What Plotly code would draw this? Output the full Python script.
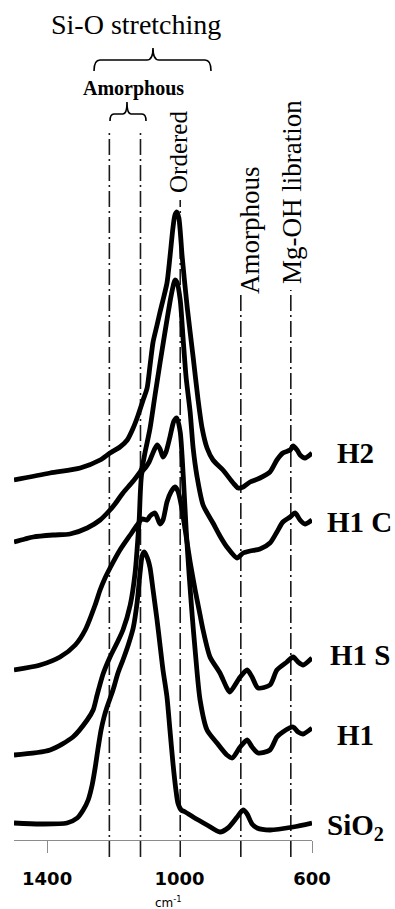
import plotly.graph_objects as go

# ---- FTIR spectra: wavenumber (cm-1) and stacked absorbance (a.u.) ----
h2_wn = [1500, 1391, 1300, 1240, 1210, 1180, 1158, 1140, 1125, 1110, 1098, 1089, 1080, 1068, 1059,
         1050, 1038, 1029, 1020, 1014, 1008, 1002, 992, 977, 959, 944, 932, 917, 899, 869,
         838, 823, 808, 787, 757, 727, 706, 688, 666, 657, 645, 636, 621, 600]
h2_ab = [3.60, 3.67, 3.72, 3.80, 3.87, 3.93, 4.00, 4.12, 4.25, 4.40, 4.52, 4.75, 4.98, 5.15, 5.28,
         5.40, 5.57, 5.83, 6.12, 6.25, 6.28, 6.22, 5.83, 5.33, 4.83, 4.40, 4.12, 3.92, 3.80, 3.70,
         3.57, 3.52, 3.53, 3.58, 3.62, 3.68, 3.80, 3.87, 3.90, 3.94, 3.90, 3.85, 3.82, 3.87]

h1c_wn = [1500, 1467, 1442, 1382, 1331, 1279, 1240, 1210, 1195, 1171, 1140, 1116, 1104, 1089, 1074,
          1059, 1044, 1029, 1020, 1014, 1008, 998, 989, 980, 968, 959, 947, 929, 899, 878,
          857, 826, 808, 787, 757, 727, 706, 688, 666, 651, 636, 621, 600]
h1c_ab = [2.98, 3.01, 3.03, 3.05, 3.06, 3.12, 3.20, 3.30, 3.36, 3.47, 3.59, 3.70, 3.88, 4.12, 4.45,
          4.77, 5.08, 5.38, 5.53, 5.60, 5.58, 5.40, 5.00, 4.62, 4.28, 3.92, 3.63, 3.35, 3.17, 3.04,
          2.93, 2.82, 2.87, 2.89, 2.91, 2.97, 3.08, 3.18, 3.23, 3.27, 3.20, 3.16, 3.20]

h1s_wn = [1500, 1421, 1361, 1315, 1285, 1255, 1240, 1225, 1210, 1180, 1149, 1128, 1113, 1098, 1089,
          1074, 1059, 1050, 1038, 1026, 1014, 1005, 995, 983, 968, 953, 938, 929, 908, 878,
          857, 848, 817, 796, 781, 763, 727, 706, 676, 657, 642, 627, 600]
h1s_ab = [1.70, 1.75, 1.83, 1.95, 2.10, 2.35, 2.50, 2.62, 2.72, 2.90, 3.05, 3.15, 3.21, 3.20, 3.24,
          3.27, 3.16, 3.20, 3.38, 3.48, 3.53, 3.49, 3.35, 3.10, 2.78, 2.50, 2.25, 2.10, 1.83, 1.67,
          1.52, 1.48, 1.63, 1.70, 1.63, 1.52, 1.55, 1.70, 1.78, 1.83, 1.78, 1.75, 1.82]

h1_wn = [1500, 1391, 1322, 1279, 1261, 1249, 1231, 1210, 1189, 1171, 1149, 1134, 1122, 1113, 1104,
         1092, 1083, 1068, 1059, 1050, 1041, 1029, 1017, 1008, 998, 989, 980, 971, 962, 953,
         938, 917, 887, 857, 841, 817, 796, 781, 763, 727, 706, 688, 657, 642, 627, 600]
h1_ab = [0.85, 0.90, 1.03, 1.20, 1.30, 1.45, 1.66, 1.83, 1.97, 2.10, 2.35, 2.68, 3.20, 3.68, 3.72,
         3.78, 3.85, 3.95, 3.91, 3.83, 3.88, 4.03, 4.19, 4.22, 4.08, 3.65, 3.10, 2.65, 2.25, 1.90,
         1.40, 1.10, 0.97, 0.85, 0.82, 0.93, 1.00, 0.93, 0.87, 0.90, 1.03, 1.08, 1.13, 1.08, 1.06,
         1.12]

sio2_wn = [1500, 1421, 1340, 1309, 1291, 1276, 1264, 1255, 1246, 1237, 1228, 1219, 1201, 1186, 1171,
           1155, 1140, 1128, 1119, 1113, 1107, 1101, 1095, 1089, 1080, 1068, 1059, 1050, 1038, 1029,
           1020, 1011, 1005, 995, 983, 959, 917, 878, 854, 826, 808, 796, 781, 766, 727, 657, 600]
sio2_ab = [0.17, 0.16, 0.17, 0.22, 0.30, 0.40, 0.55, 0.72, 0.92, 1.10, 1.23, 1.33, 1.50, 1.67, 1.80,
           1.95, 2.12, 2.38, 2.68, 2.84, 2.88, 2.85, 2.80, 2.72, 2.50, 2.20, 1.95, 1.70, 1.43, 1.10,
           0.77, 0.50, 0.37, 0.30, 0.28, 0.23, 0.15, 0.08, 0.12, 0.23, 0.30, 0.26, 0.16, 0.12, 0.10,
           0.13, 0.17]

# band assignment markers (cm-1)
band_wn = [1212, 1118, 998, 815, 664]

# axis ticks
tick_vals = [1400, 1000, 600]
tick_text = ["1400", "1000", "600"]

series = [
    ("H2", h2_wn, h2_ab),
    ("H1 C", h1c_wn, h1c_ab),
    ("H1 S", h1s_wn, h1s_ab),
    ("H1", h1_wn, h1_ab),
    ("SiO<sub>2</sub>", sio2_wn, sio2_ab),
]

# ---- page geometry ----
W, H = 395, 909
ML, MR, MT, MB = 14, 83, 0, 69
PW, PH = W - ML - MR, H - MT - MB


def fx(x):
    return (x - ML) / PW


def fy(y):
    return (H - MB - y) / PH


fig = go.Figure()
for name, wn, ab in series:
    fig.add_trace(go.Scatter(
        x=wn, y=ab, mode="lines", name=name,
        line=dict(color="#000000", width=4.8, shape="spline", smoothing=0.7),
        showlegend=False, hoverinfo="skip",
    ))

# dash-dot band markers
band_top = [130, 130, 200, 292, 290]
shapes = []
for wn, top in zip(band_wn, band_top):
    shapes.append(dict(
        type="line", xref="x", yref="paper", x0=wn, x1=wn, y0=fy(857), y1=fy(top),
        line=dict(color="#1a1a1a", width=1.6, dash="16px,4px,2px,4px"), layer="below",
    ))


def brace(x0, x1, xt, yh, yend, ytip, r=6):
    pts = [
        ("M", x0, yend), ("Q", x0, yh), ("", x0 + r, yh), ("L", xt - r, yh),
        ("Q", xt, yh), ("", xt, ytip), ("Q", xt, yh), ("", xt + r, yh),
        ("L", x1 - r, yh), ("Q", x1, yh), ("", x1, yend),
    ]
    s = ""
    for cmd, x, y in pts:
        s += f"{cmd} {fx(x):.5f},{fy(y):.5f} "
    return s.strip()


shapes.append(dict(type="path", xref="paper", yref="paper",
                   path=brace(94, 211, 153, 60, 71, 48),
                   line=dict(color="#000000", width=1.6)))
shapes.append(dict(type="path", xref="paper", yref="paper",
                   path=brace(110, 146, 127, 114, 121, 102, r=4),
                   line=dict(color="#000000", width=1.6)))

serif = "Liberation Serif, Times New Roman, serif"
annotations = [
    dict(text="Si-O stretching", x=fx(136), y=fy(24), font=dict(family=serif, size=28, color="#000")),
    dict(text="<b>Amorphous</b>", x=fx(133), y=fy(89), font=dict(family=serif, size=20, color="#000")),
    dict(text="Ordered", x=fx(178), y=fy(152), textangle=-90,
         font=dict(family=serif, size=25, color="#000")),
    dict(text="Amorphous", x=fx(250), y=fy(230), textangle=-90,
         font=dict(family=serif, size=27, color="#000")),
    dict(text="Mg-OH libration", x=fx(292), y=fy(192), textangle=-90,
         font=dict(family=serif, size=27, color="#000")),
    dict(text="cm<sup>-1</sup>", x=fx(168), y=fy(902),
         font=dict(family="DejaVu Sans, sans-serif", size=12, color="#000")),
]
label_pos = [(335, 453), (325, 522), (328, 655), (335, 735), (325, 827)]
for (name, _, _), (lx, ly) in zip(series, label_pos):
    annotations.append(dict(text=f"<b>{name}</b>", x=fx(lx), y=fy(ly), xanchor="left",
                            font=dict(family=serif, size=29, color="#000")))
for a in annotations:
    a.setdefault("xref", "paper")
    a.setdefault("yref", "paper")
    a.setdefault("xanchor", "center")
    a.setdefault("yanchor", "middle")
    a.setdefault("showarrow", False)

fig.update_layout(
    width=W, height=H,
    margin=dict(l=ML, r=MR, t=MT, b=MB),
    paper_bgcolor="white", plot_bgcolor="white",
    shapes=shapes, annotations=annotations,
    xaxis=dict(
        range=[1500, 600], tickvals=tick_vals, ticktext=tick_text,
        ticks="outside", ticklen=12, tickwidth=1, tickcolor="#8c8c8c",
        showline=True, linecolor="#8c8c8c", linewidth=1,
        showgrid=False, zeroline=False,
        tickfont=dict(family="DejaVu Sans, sans-serif", size=18, color="#000", weight="bold"),
        ticklabelstandoff=10,
    ),
    yaxis=dict(range=[0, 8.4], visible=False, showgrid=False, zeroline=False),
)

fig.write_html("out.html")
